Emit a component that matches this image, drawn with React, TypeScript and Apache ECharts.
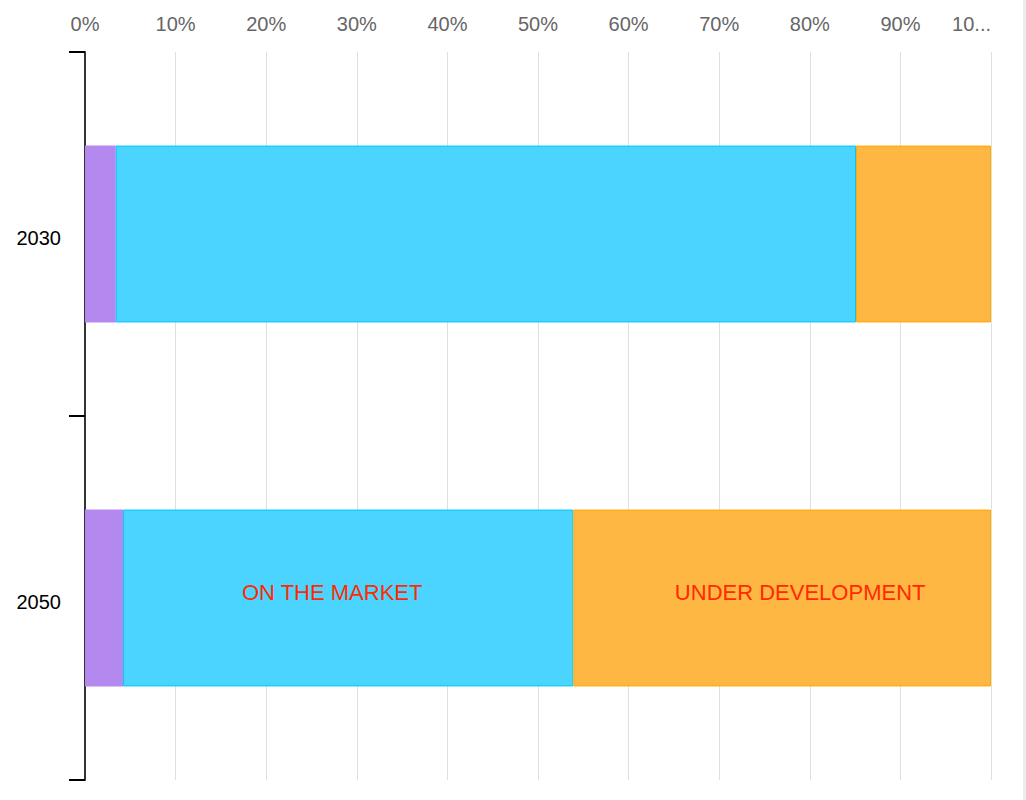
import React, { useEffect, useRef } from "react";
import * as echarts from "echarts";

const categories = ["2030", "2050"];
const otherShare = [3.4, 4.2];
const onMarket = [81.7, 49.7];
const underDev = [14.9, 46.1];
const tickMax = 100;
const tickStep = 10;

const FONT = 'Arial, "Liberation Sans", sans-serif';

export default function App() {
  const ref = useRef<HTMLDivElement>(null);
  useEffect(() => {
    if (!ref.current) return;
    const chart = echarts.init(ref.current, undefined, { renderer: "svg" });
    const labelFor = (text: string, offset: number[]) => ({
      show: true,
      position: "inside",
      formatter: text,
      color: "#ff2a00",
      fontSize: 22,
      fontFamily: FONT,
      offset,
    });
    chart.setOption({
      animation: false,
      grid: { left: 85, right: 35, top: 52, bottom: 20, containLabel: false },
      xAxis: {
        type: "value",
        position: "top",
        min: 0,
        max: tickMax,
        interval: tickStep,
        axisLine: { show: false },
        axisTick: { show: false },
        splitLine: { lineStyle: { color: "#e0e0e0", width: 1 } },
        axisLabel: {
          formatter: (v: number) => (v === tickMax ? "10..." : v + "%"),
          color: "#666",
          fontSize: 20,
          fontFamily: FONT,
          margin: 18,
          alignMaxLabel: "right",
        },
      },
      yAxis: {
        type: "category",
        data: categories,
        inverse: true,
        axisLine: { show: true, lineStyle: { color: "#333", width: 2 } },
        axisTick: { show: true, length: 16, lineStyle: { color: "#000", width: 2 } },
        axisLabel: {
          formatter: (v: string) => "{y|" + v + "}",
          margin: 24,
          rich: {
            y: {
              color: "#000",
              fontSize: 20,
              fontFamily: FONT,
              padding: [8, 0, 0, 0],
            },
          },
        },
        splitLine: { show: false },
      },
      series: [
        {
          name: "Other",
          type: "bar",
          stack: "total",
          barWidth: "48.6%",
          itemStyle: { color: "#b388ef" },
          data: otherShare,
        },
        {
          name: "On the market",
          type: "bar",
          stack: "total",
          itemStyle: { color: "#4ad4ff", borderColor: "#00c8f8", borderWidth: 1 },
          data: onMarket.map((v, i) =>
            i === 1 ? { value: v, label: labelFor("ON THE MARKET", [-16, -6]) } : v
          ),
        },
        {
          name: "Under development",
          type: "bar",
          stack: "total",
          itemStyle: { color: "#ffb743", borderColor: "#ffaa00", borderWidth: 1 },
          data: underDev.map((v, i) =>
            i === 1 ? { value: v, label: labelFor("UNDER DEVELOPMENT", [18, -6]) } : v
          ),
        },
      ],
      graphic: [
        {
          type: "rect",
          right: 0,
          top: 0,
          shape: { width: 3, height: 800 },
          style: { fill: "#ececec" },
          silent: true,
        },
      ],
    });
    return () => chart.dispose();
  }, []);
  return (
    <div
      ref={ref}
      style={{ position: "fixed", left: 0, top: 0, width: 1026, height: 800, background: "#fff" }}
    />
  );
}
